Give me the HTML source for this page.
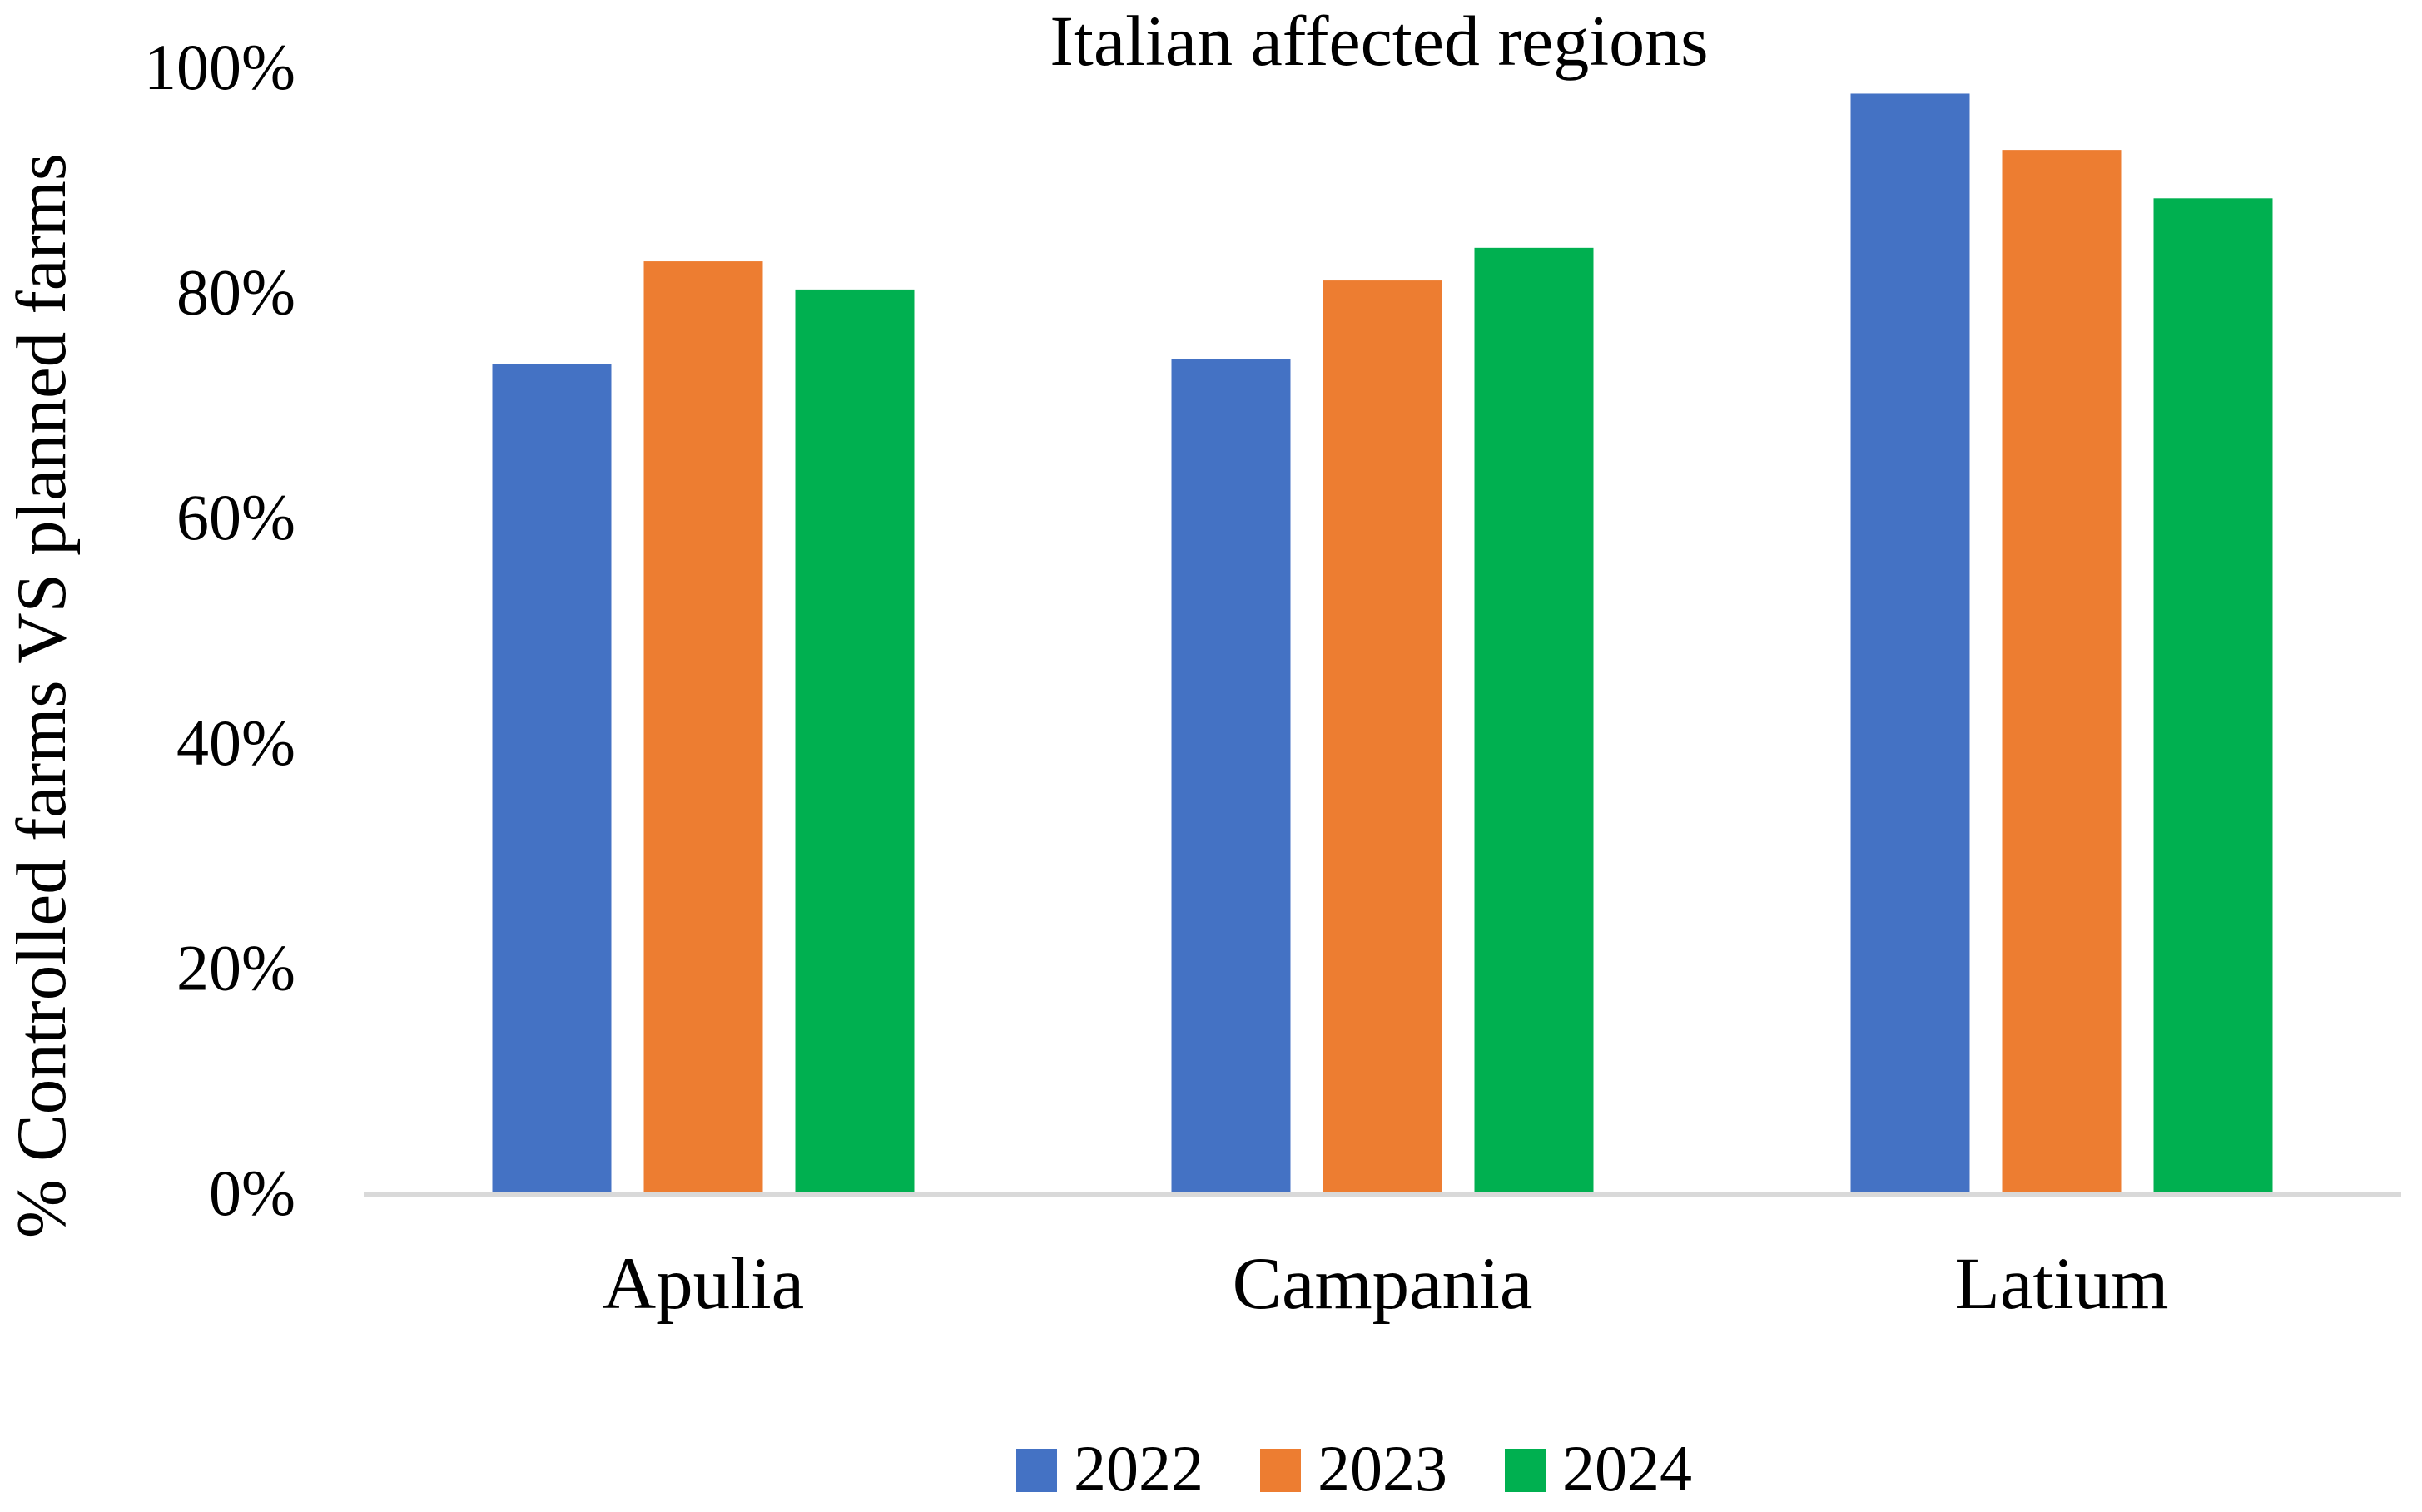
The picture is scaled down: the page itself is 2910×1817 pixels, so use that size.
<!DOCTYPE html>
<html><head><meta charset="utf-8"><style>
html,body{margin:0;padding:0;background:#fff;}
svg{display:block;font-family:"Liberation Serif",serif;}
</style></head><body>
<svg id="chart" width="2910" height="1817" viewBox="0 0 2910 1817" xmlns="http://www.w3.org/2000/svg">
<text x="1657" y="78" font-size="86" text-anchor="middle">Italian affected regions</text>
<text transform="translate(78,836) rotate(-90)" font-size="85" text-anchor="middle">% Controlled farms VS planned farms</text>
<g id="yticks"></g>
<g id="bars"></g>
<rect x="437" y="1433" width="2448" height="6" fill="#d9d9d9"/>
<g id="xlabels"></g>
<g id="legend"></g>
</svg>
<script>
const categories = ["Apulia", "Campania", "Latium"];
const series2022 = [73.6, 74.0, 97.6];
const series2023 = [82.7, 81.0, 92.6];
const series2024 = [80.2, 83.9, 88.3];
const seriesNames = ["2022", "2023", "2024"];
const yTicks = [0, 20, 40, 60, 80, 100];
const yTickLabels = ["0%", "20%", "40%", "60%", "80%", "100%"];

const NS = "http://www.w3.org/2000/svg";
const colors = ["#4472c4", "#ed7d31", "#00b050"];
const allSeries = [series2022, series2023, series2024];
const plotLeft = 437, plotRight = 2885, y0 = 1433, y100 = 80;
function yScale(v){ return y0 - (v/100)*(y0 - y100); }
const catW = (plotRight - plotLeft) / categories.length;
function xCenter(i){ return plotLeft + catW*(i+0.5); }
const barW = 143, gap = 39;

const yt = document.getElementById('yticks');
yTicks.forEach((t, i) => {
  const el = document.createElementNS(NS, 'text');
  el.setAttribute('x', 355);
  el.setAttribute('y', yScale(t) + 27);
  el.setAttribute('font-size', 78);
  el.setAttribute('text-anchor', 'end');
  
  
  el.textContent = yTickLabels[i];
  yt.appendChild(el);
});

const bg = document.getElementById('bars');
const groupW = barW*3 + gap*2;
categories.forEach((c, i) => {
  allSeries.forEach((s, j) => {
    const x = xCenter(i) - groupW/2 + j*(barW+gap);
    const r = document.createElementNS(NS, 'rect');
    r.setAttribute('x', x);
    r.setAttribute('y', yScale(s[i]));
    r.setAttribute('width', barW);
    r.setAttribute('height', y0 - yScale(s[i]));
    r.setAttribute('fill', colors[j]);
    
    
    bg.appendChild(r);
  });
});

const xl = document.getElementById('xlabels');
categories.forEach((c, i) => {
  const el = document.createElementNS(NS, 'text');
  el.setAttribute('x', xCenter(i));
  el.setAttribute('y', 1572);
  el.setAttribute('font-size', 89);
  el.setAttribute('text-anchor', 'middle');
  
  
  el.textContent = c;
  xl.appendChild(el);
});

const lg = document.getElementById('legend');
const legX = [1221, 1514, 1808];
seriesNames.forEach((n, j) => {
  const g = document.createElementNS(NS, 'g');
  
  
  const r = document.createElementNS(NS, 'rect');
  r.setAttribute('x', legX[j]);
  r.setAttribute('y', 1741);
  r.setAttribute('width', 49);
  r.setAttribute('height', 52);
  r.setAttribute('fill', colors[j]);
  
  
  const t = document.createElementNS(NS, 'text');
  t.setAttribute('x', legX[j] + 69);
  t.setAttribute('y', 1791);
  t.setAttribute('font-size', 78);
  
  
  t.textContent = n;
  g.appendChild(r); g.appendChild(t);
  lg.appendChild(g);
});
</script>
</body></html>
